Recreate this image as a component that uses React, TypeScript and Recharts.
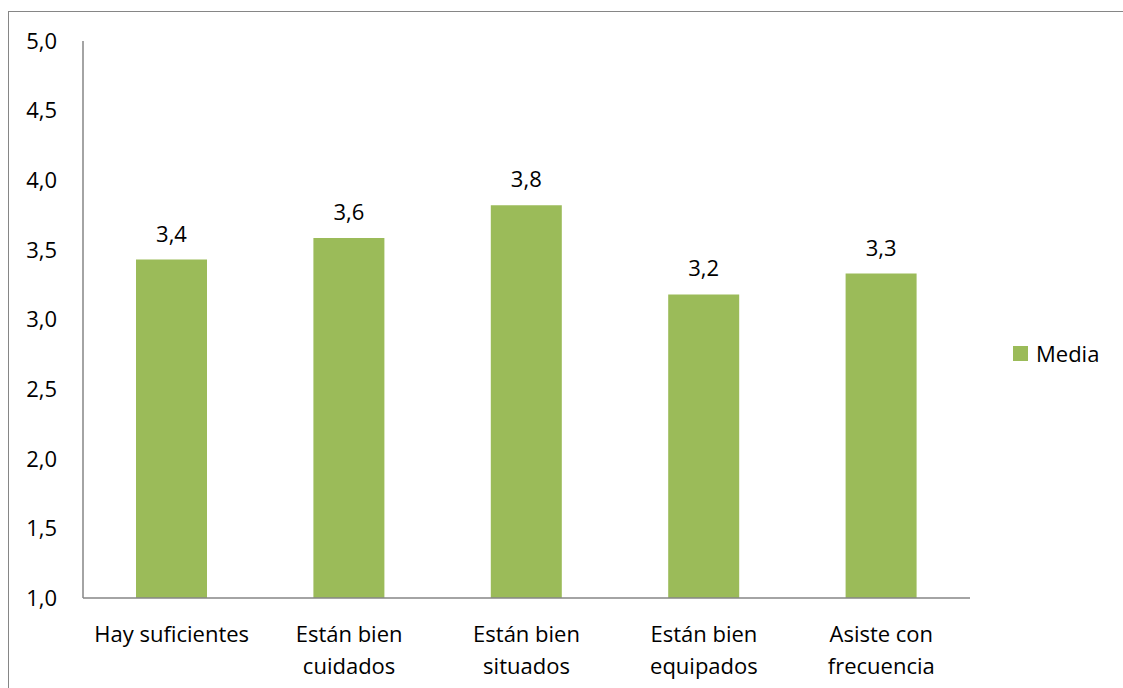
import { BarChart, Bar, XAxis, YAxis, LabelList } from "recharts";

const CATEGORIES = [
  ["Hay suficientes"],
  ["Están bien", "cuidados"],
  ["Están bien", "situados"],
  ["Están bien", "equipados"],
  ["Asiste con", "frecuencia"],
];
const MEDIA = [3.43, 3.585, 3.82, 3.18, 3.33];
const Y_TICKS = [1, 1.5, 2, 2.5, 3, 3.5, 4, 4.5, 5];

const FONT = "'Open Sans', sans-serif";
const FS = 22;
const GREEN = "#9BBB59";
const AXIS = "#868686";

const fmt = (v: number) => v.toFixed(1).replace(".", ",");

const data = CATEGORIES.map((lines, i) => ({
  name: lines.join(" "),
  media: MEDIA[i],
}));

function CategoryTick(props: any) {
  const { x, y, payload } = props;
  const lines = CATEGORIES[payload.index] ?? [payload.value];
  return (
    <text x={x} y={y} textAnchor="middle" fill="#000" fontSize={FS} fontFamily={FONT}>
      {lines.map((l, i) => (
        <tspan key={i} x={x} dy={i === 0 ? 36 : 32}>
          {l}
        </tspan>
      ))}
    </text>
  );
}

export default function App() {
  return (
    <div style={{ position: "absolute", left: 0, top: 0, width: 1123, height: 688, overflow: "hidden", background: "#fff" }}>
      <div
        style={{
          position: "absolute",
          left: 8,
          top: 11,
          width: 1200,
          height: 800,
          border: `1px solid ${AXIS}`,
        }}
      />
      <div style={{ position: "absolute", left: 0, top: 0 }}>
        <BarChart
          width={1123}
          height={688}
          data={data}
          margin={{ top: 41, right: 153, bottom: 0, left: 0 }}
        >
          <XAxis
            dataKey="name"
            height={90}
            axisLine={{ stroke: AXIS, strokeWidth: 1.5 }}
            tickLine={false}
            tick={<CategoryTick />}
            interval={0}
          />
          <YAxis
            domain={[1, 5]}
            ticks={Y_TICKS}
            width={83}
            axisLine={{ stroke: AXIS, strokeWidth: 1.5 }}
            tickLine={false}
            tickSize={0}
            tickMargin={26}
            tickFormatter={fmt}
            tick={{ fill: "#000", fontSize: FS, fontFamily: FONT }}
            allowDataOverflow
          />
          <Bar dataKey="media" fill={GREEN} barSize={71} isAnimationActive={false}>
            <LabelList
              dataKey="media"
              position="top"
              offset={18}
              formatter={(v: any) => fmt(Number(v))}
              fill="#000"
              fontSize={FS}
              fontFamily={FONT}
            />
          </Bar>
        </BarChart>
      </div>
      <div
        style={{
          position: "absolute",
          left: 1013,
          top: 338,
          display: "flex",
          alignItems: "center",
          fontFamily: FONT,
          fontSize: FS,
          color: "#000",
        }}
      >
        <span style={{ width: 15, height: 15, background: GREEN, marginRight: 8, display: "inline-block" }} />
        <span>Media</span>
      </div>
    </div>
  );
}
